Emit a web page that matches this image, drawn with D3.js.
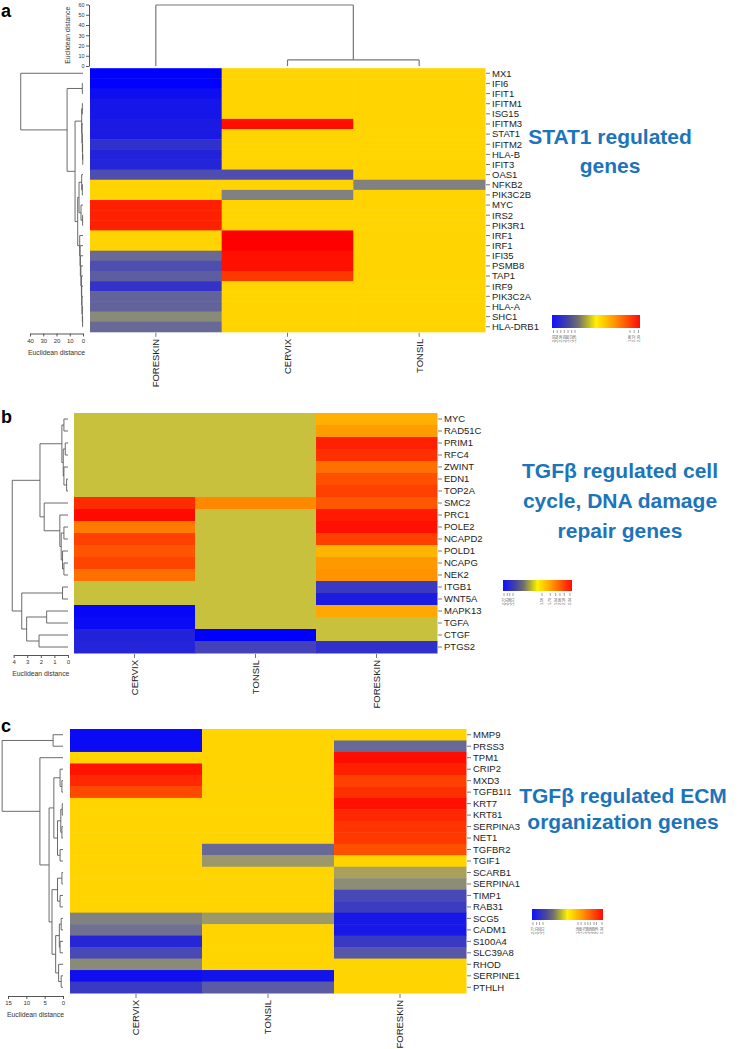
<!DOCTYPE html>
<html>
<head>
<meta charset="utf-8">
<script src="https://cdn.jsdelivr.net/npm/d3@7/dist/d3.min.js"></script>
<style>
html,body{margin:0;padding:0;background:#fff;}
svg{display:block;}
text{font-family:"Liberation Sans", Arial, Helvetica, sans-serif;}
</style>
</head>
<body>
<svg id="chart" width="747" height="1049"></svg>
<script>
// ---------------- DATA ----------------
// Panel a
const colsA = ["FORESKIN", "CERVIX", "TONSIL"];
const genesA = ["MX1","IFI6","IFIT1","IFITM1","ISG15","IFITM3","STAT1","IFITM2","HLA-B","IFIT3","OAS1","NFKB2","PIK3C2B","MYC","IRS2","PIK3R1","IRF1","IRF1","IFI35","PSMB8","TAP1","IRF9","PIK3C2A","HLA-A","SHC1","HLA-DRB1"];
const valsA_FORESKIN = [-3,-2.95,-2.7,-2.55,-2.55,-2.45,-2.45,-2.0,-2.3,-2.25,-1.5,0,0,2.0,2.0,2.0,0,0,-1.05,-1.5,-1.25,-1.95,-1.15,-1.15,-0.63,-1.05];
const valsA_CERVIX   = [0,0,0,0,0,2.3,0,0,0,0,-1.5,0,-0.75,0,0,0,2.5,2.5,2.25,2.25,1.7,0,0,0,0,0];
const valsA_TONSIL   = [0,0,0,0,0,0,0,0,0,0,0,-0.75,0,0,0,0,0,0,0,0,0,0,0,0,0,0];
// row dendrogram: [height, left, right], leaves = row index
const rowTreeA = [47, 0, [12, [0.5, 1, 2], [6, [1, [0.5, 3, 4], [0.8, 5, [0.5, 6, [0.3, 7, [0.2, 8, 9]]]]], [4, [3, [1, 10, [0.5, 11, 12]], [1.5, 13, [0.3, 14, 15]]], [2.5, 16, [2.2, 17, [2, 18, [1.6, 19, [1.2, 20, [1, 21, [0.8, 22, [0.5, 23, [0.3, 24, 25]]]]]]]]]]]]];
const colTreeA = [59.5, 0, [5.9, 1, 2]];
const rowTicksA = [0, 10, 20, 30, 40];
const colTicksA = [0, 10, 20, 30, 40, 50, 60];
const legendTicksA = [-2.93,-2.64,-2.36,-2.09,-1.80,-1.52,-1.26,1.86,2.12,2.39];
const titleA = ["STAT1 regulated", "genes"];

// Panel b
const colsB = ["CERVIX", "TONSIL", "FORESKIN"];
const genesB = ["MYC","RAD51C","PRIM1","RFC4","ZWINT","EDN1","TOP2A","SMC2","PRC1","POLE2","NCAPD2","POLD1","NCAPG","NEK2","ITGB1","WNT5A","MAPK13","TGFA","CTGF","PTGS2"];
const valsB_CERVIX   = [0,0,0,0,0,0,0,1.85,2.35,0.9,1.6,1.35,1.55,1.0,0,0,-2.85,-2.8,-2.3,-2.25];
const valsB_TONSIL   = [0,0,0,0,0,0,0,0.77,0,0,0,0,0,0,0,0,0,0,-3,-1.75];
const valsB_FORESKIN = [0.38,0.57,2.0,1.8,1.0,1.4,1.6,1.3,2.1,2.25,1.6,0.33,0.6,0.67,-1.87,-2.42,0.45,0,0,-2.0];
const rowTreeB = [4.1, [2.06, [0.45, [0.3, 0, 1], [0.35, [0.2, 2, 3], [0.3, 4, [0.1, 5, 6]]]], [1.75, 7, [0.6, 8, [0.5, [0.3, 9, 10], [0.4, 11, [0.3, 12, 13]]]]]], [3.4, [0.4, 14, 15], [3.04, [1.57, 16, 17], [2.13, 18, 19]]]];
const rowTicksB = [0, 1, 2, 3, 4];
const legendTicksB = [-2.77,-2.31,-1.96,-1.51,1.56,1.79,1.94,2.06,2.18,2.34];
const titleB = ["TGFβ regulated cell", "cycle, DNA damage", "repair genes"];

// Panel c
const colsC = ["CERVIX", "TONSIL", "FORESKIN"];
const genesC = ["MMP9","PRSS3","TPM1","CRIP2","MXD3","TGFB1I1","KRT7","KRT81","SERPINA3","NET1","TGFBR2","TGIF1","SCARB1","SERPINA1","TIMP1","RAB31","SCG5","CADM1","S100A4","SLC39A8","RHOD","SERPINE1","PTHLH"];
const valsC_CERVIX   = [-2.8,-2.8,0,2.2,1.9,1.5,0,0,0,0,0,0,0,0,0,0,-0.75,-0.95,-2.2,-1.6,-0.63,-2.7,-1.85];
const valsC_TONSIL   = [0,0,0,0,0,0,0,0,0,0,-1.05,-0.47,0,0,0,0,-0.47,0,0,0,0,-2.6,-1.3];
const valsC_FORESKIN = [0,-1.05,2.3,2.0,1.6,1.8,2.25,1.9,1.75,1.7,1.4,0,-0.41,-0.6,-1.6,-1.8,-2.5,-2.5,-1.85,-1.35,0,0,0];
const rowTreeC = [16.6, [2.7, 0, 1], [6.3, 2, [3.8, [2.5, [0.8, 3, [0.3, 4, 5]], [1.5, [0.6, [0.2, 6, 7], [0.3, 8, 9]], [0.8, 10, 11]]], [3, [1.5, [0.3, 12, 13], [0.8, 14, 15]], [2, [1, [0.5, 16, 17], [0.8, 18, 19]], [1.2, 20, [0.5, 21, 22]]]]]]];
const rowTicksC = [0, 5, 10, 15];
const legendTicksC = [-2.77,-2.31,-1.95,-1.51,1.56,1.66,1.79,1.88,1.96,2.08,2.16,2.34];
const titleC = ["TGFβ regulated ECM", "organization genes"];

// ---------------- STYLES / SCALES ----------------
const colorAC = d3.scaleLinear()
  .domain([-3, -2, -1, -0.5, 0, 1, 2, 2.5])
  .range(["#0000ff", "#3030cc", "#6c6c94", "#959570", "#ffd400", "#ff7000", "#ff2000", "#ff0000"])
  .clamp(true);
const colorB = d3.scaleLinear()
  .domain([-3, -2, 0, 0.3, 1, 2, 2.5])
  .range(["#0000ff", "#3030cc", "#c7c13e", "#ffb800", "#ff7000", "#ff2000", "#ff0000"])
  .clamp(true);
const legendStops = [[0, "#1010ff"], [0.2, "#4a4a98"], [0.3, "#707070"], [0.4, "#b4b030"], [0.5, "#fff200"], [0.7, "#ff9a00"], [1, "#ff0a0a"]];
const titleColor = "#1c74ba";
const treeColor = "#5a5a5a";

const svg = d3.select("#chart");
const defs = svg.append("defs");
const grad = defs.append("linearGradient").attr("id", "lg").attr("x1", "0%").attr("x2", "100%").attr("y1", "0%").attr("y2", "0%");
legendStops.forEach(([o, c]) => grad.append("stop").attr("offset", o).attr("stop-color", c));

function drawPanel(p) {
  const g = svg.append("g");
  const x = d3.scaleBand().domain(p.cols).range([p.x0, p.x1]);
  const y = d3.scaleBand().domain(d3.range(p.genes.length)).range([p.y0, p.y1]);
  const yc = i => y(i) + y.bandwidth() / 2;

  // cells
  p.cols.forEach((c, j) => {
    p.values[j].forEach((v, i) => {
      g.append("rect")
        .attr("x", x(c)).attr("y", y(i))
        .attr("width", x.bandwidth() + 0.5).attr("height", y.bandwidth() + 0.5)
        .attr("fill", p.color(v));
    });
  });

  // gene labels
  p.genes.forEach((name, i) => {
    g.append("line").attr("x1", p.x1 + 1).attr("x2", p.x1 + 5).attr("y1", yc(i)).attr("y2", yc(i))
      .attr("stroke", "#555").attr("stroke-width", 0.8);
    g.append("text").attr("x", p.x1 + 7).attr("y", yc(i)).attr("dy", "0.35em")
      .attr("font-size", 9.5).attr("fill", "#222").text(name);
  });

  // column labels
  p.cols.forEach(c => {
    const xc = x(c) + x.bandwidth() / 2;
    g.append("line").attr("x1", xc).attr("x2", xc).attr("y1", p.y1 + 1).attr("y2", p.y1 + 5)
      .attr("stroke", "#555").attr("stroke-width", 0.8);
    g.append("text").attr("transform", `translate(${xc + 3.4},${p.y1 + 7}) rotate(-90)`)
      .attr("text-anchor", "end").attr("font-size", 9.5).attr("fill", "#222").text(c);
  });

  // row dendrogram
  const hx = d3.scaleLinear().domain([0, d3.max(p.rowTicks)]).range([p.tree0, p.treeEnd]);
  const tg = g.append("g").attr("stroke", treeColor).attr("stroke-width", 0.9).attr("fill", "none");
  const seg = (x1, y1, x2, y2) => tg.append("line").attr("x1", x1).attr("y1", y1).attr("x2", x2).attr("y2", y2);
  (function rec(node) {
    if (typeof node === "number") return { y: yc(node), h: 0 };
    const [h, l, r] = node;
    const a = rec(l), b = rec(r);
    seg(hx(h), a.y, hx(h), b.y);
    seg(hx(h), a.y, hx(a.h), a.y);
    seg(hx(h), b.y, hx(b.h), b.y);
    return { y: (a.y + b.y) / 2, h: h };
  })(p.rowTree);

  const ax = g.append("g").attr("transform", `translate(0,${p.axisY})`)
    .call(d3.axisBottom(hx).tickValues(p.rowTicks).tickFormat(d3.format("d")).tickSize(3).tickSizeOuter(0));
  ax.attr("font-size", 6).attr("font-family", null);
  ax.selectAll("text").attr("fill", "#333").attr("y", 5);
  ax.selectAll("line").attr("stroke", "#555");
  ax.select(".domain").attr("stroke", "#555");
  g.append("text").attr("x", (p.tree0 + p.treeEnd) / 2).attr("y", p.axisY + 21)
    .attr("text-anchor", "middle").attr("font-size", 6.8).attr("fill", "#333").text("Euclidean distance");

  // column dendrogram
  if (p.colTree) {
    const vy = d3.scaleLinear().domain([0, d3.max(p.colTicks)]).range([p.colTree0, p.colTreeEnd]);
    const xc = i => x(p.cols[i]) + x.bandwidth() / 2;
    const cg = g.append("g").attr("stroke", "#777").attr("stroke-width", 1.2).attr("fill", "none");
    const cseg = (x1, y1, x2, y2) => cg.append("line").attr("x1", x1).attr("y1", y1).attr("x2", x2).attr("y2", y2);
    (function rec(node) {
      if (typeof node === "number") return { x: xc(node), h: 0 };
      const [h, l, r] = node;
      const a = rec(l), b = rec(r);
      cseg(a.x, vy(h), b.x, vy(h));
      cseg(a.x, vy(h), a.x, vy(a.h));
      cseg(b.x, vy(h), b.x, vy(b.h));
      return { x: (a.x + b.x) / 2, h: h };
    })(p.colTree);
    const vax = g.append("g").attr("transform", `translate(${p.colAxisX},0)`)
      .call(d3.axisLeft(vy).tickValues(p.colTicks).tickFormat(d3.format("d")).tickSize(3).tickSizeOuter(0));
    vax.attr("font-size", 5.5).attr("font-family", null);
    vax.selectAll("text").attr("fill", "#333").attr("x", -4.5);
    vax.selectAll("line").attr("stroke", "#555");
    vax.select(".domain").attr("stroke", "#555");
    g.append("text").attr("transform", `translate(${p.colAxisX - 19},${(p.colTree0 + p.colTreeEnd) / 2}) rotate(-90)`)
      .attr("text-anchor", "middle").attr("font-size", 6.8).attr("fill", "#333").text("Euclidean distance");
  }

  // legend
  const L = p.legend;
  g.append("rect").attr("x", L.x).attr("y", L.y).attr("width", L.w).attr("height", L.h).attr("fill", "url(#lg)");
  const ls = d3.scaleLinear().domain(L.domain).range(L.range);
  p.legendTicks.forEach(v => {
    const lx = ls(v);
    g.append("line").attr("x1", lx).attr("x2", lx).attr("y1", L.y + L.h + 2).attr("y2", L.y + L.h + 5)
      .attr("stroke", "#666").attr("stroke-width", 0.6);
    g.append("text").attr("transform", `translate(${lx + 1.2},${L.y + L.h + 7}) rotate(-90)`)
      .attr("text-anchor", "end").attr("font-size", 3.6).attr("fill", "#444").text(v.toFixed(2));
  });

  // title
  p.title.forEach((t, k) => {
    g.append("text").attr("x", p.titleX).attr("y", p.titleY + k * p.titleDy)
      .attr("text-anchor", "middle").attr("font-size", 21).attr("font-weight", "bold")
      .attr("fill", titleColor).text(t);
  });

  // panel letter
  g.append("text").attr("x", 1).attr("y", p.letterY).attr("font-size", 18).attr("font-weight", "bold")
    .attr("fill", "#000").text(p.letter);
}

drawPanel({
  letter: "a", letterY: 16.5,
  cols: colsA, genes: genesA, values: [valsA_FORESKIN, valsA_CERVIX, valsA_TONSIL], color: colorAC,
  x0: 90, x1: 485, y0: 68.2, y1: 331.8,
  rowTree: rowTreeA, rowTicks: rowTicksA, tree0: 83, treeEnd: 30, axisY: 333.5,
  colTree: colTreeA, colTicks: colTicksA, colTree0: 66, colTreeEnd: 4.5, colAxisX: 89,
  legendTicks: legendTicksA,
  legend: { x: 552, y: 315, w: 88, h: 13, domain: [-2.93, -1.26, 1.86, 2.39], range: [553.5, 575, 630, 638.5] },
  title: titleA, titleX: 610, titleY: 143.5, titleDy: 29
});

drawPanel({
  letter: "b", letterY: 422.5,
  cols: colsB, genes: genesB, values: [valsB_CERVIX, valsB_TONSIL, valsB_FORESKIN], color: colorB,
  x0: 74, x1: 437, y0: 413, y1: 653,
  rowTree: rowTreeB, rowTicks: rowTicksB, tree0: 68, treeEnd: 13.6, axisY: 655,
  legendTicks: legendTicksB,
  legend: { x: 503, y: 580, w: 69, h: 11, domain: [-2.77, -1.51, 1.56, 2.34], range: [504, 513, 542, 570] },
  title: titleB, titleX: 620, titleY: 478, titleDy: 30
});

drawPanel({
  letter: "c", letterY: 731.5,
  cols: colsC, genes: genesC, values: [valsC_CERVIX, valsC_TONSIL, valsC_FORESKIN], color: colorAC,
  x0: 70, x1: 466, y0: 729, y1: 993,
  rowTree: rowTreeC, rowTicks: rowTicksC, tree0: 63, treeEnd: 8, axisY: 996,
  legendTicks: legendTicksC,
  legend: { x: 532, y: 909, w: 71, h: 11, domain: [-2.77, -1.51, 1.56, 2.34], range: [533, 543, 578, 602] },
  title: titleC, titleX: 623, titleY: 803, titleDy: 25.5
});
</script>
</body>
</html>
